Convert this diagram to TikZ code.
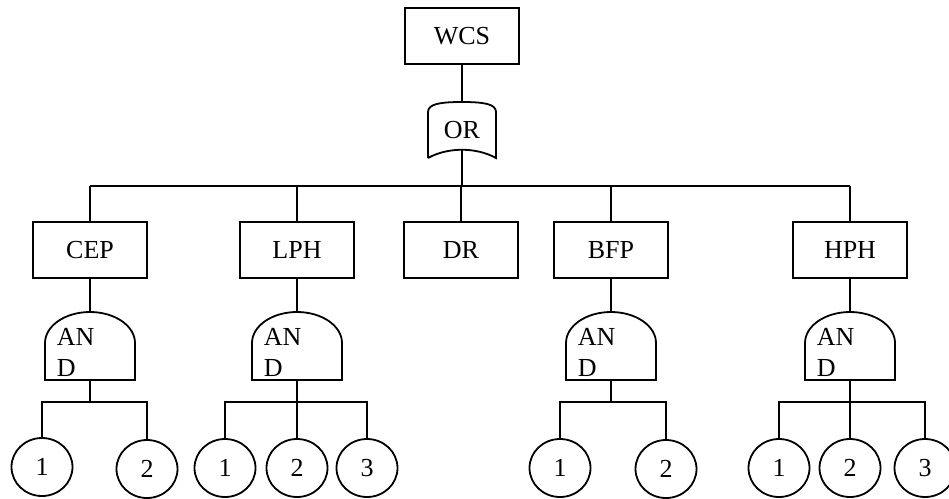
\documentclass[tikz,border=0pt]{standalone}
\usepackage{fontspec}
\setmainfont{Liberation Serif}
\usetikzlibrary{shapes.geometric}
\tikzset{
  event/.style={draw, rectangle, minimum width=114pt, minimum height=56pt, inner sep=0pt},
  basic/.style={draw, ellipse, minimum width=61pt, minimum height=58pt, inner sep=0pt},
  gatelabel/.style={align=left, inner sep=0pt, anchor=west}
}
% AND gate: name, x of its centre
\newcommand{\andgate}[2]{%
  \draw (#2-45,380) -- (#2-45,343) arc[start angle=180, end angle=0, x radius=45pt, y radius=31pt] -- (#2+45,380) -- cycle;
  \coordinate (#1-t) at (#2,312);
  \coordinate (#1-b) at (#2,380);
  \node[gatelabel] (#1-txt) at (#2-34,352) {AN\\D};
}

\begin{document}
\begin{tikzpicture}[x=1pt, y=-1pt, line width=1.8pt, font=\fontsize{26}{31}\selectfont]
    \useasboundingbox (0,0) rectangle (949,498);
    % top event and OR gate
    \node[event] (wcs) at (462,36) {WCS};
    \draw (428,158) -- (428,112) .. controls (428,104) and (440,102) .. (462,102) .. controls (484,102) and (496,104) .. (496,112) -- (496,158) .. controls (476,147) and (448,147) .. (428,158);
    \coordinate (or-t) at (462,102);
    \coordinate (or-b) at (462,150);
    \node (ortxt) at (462,130) {OR};
    \draw (wcs) -- (or-t);
    % second level
    \coordinate (bus) at (462,186);
    \node[event] (cep) at (90,250) {CEP};
    \node[event] (lph) at (297,250) {LPH};
    \node[event] (dr) at (461,250) {DR};
    \node[event] (bfp) at (611,250) {BFP};
    \node[event] (hph) at (850,250) {HPH};
    \draw (or-b) -- (bus);
    \draw (cep.north |- bus) -- (hph.north |- bus);
    \foreach \e in {cep,lph,dr,bfp,hph}
      \draw (\e) -- (\e.north |- bus);
    % AND gates
    \andgate{cepg}{90}
    \andgate{lphg}{297}
    \andgate{bfpg}{611}
    \andgate{hphg}{850}
    \draw (cep) -- (cepg-t);
    \draw (lph) -- (lphg-t);
    \draw (bfp) -- (bfpg-t);
    \draw (hph) -- (hphg-t);
    % basic events
    \node[basic] (cep1) at (42,467) {1};
    \node[basic] (cep2) at (147,469) {2};
    \node[basic] (lph1) at (225,468) {1};
    \node[basic] (lph2) at (297,468) {2};
    \node[basic] (lph3) at (367,468) {3};
    \node[basic] (bfp1) at (560,468) {1};
    \node[basic] (bfp2) at (666,469) {2};
    \node[basic] (hph1) at (779,468) {1};
    \node[basic] (hph2) at (850,468) {2};
    \node[basic] (hph3) at (925,468) {3};
    \coordinate (cepj) at (90,402);
    \coordinate (lphj) at (297,402);
    \coordinate (bfpj) at (611,402);
    \coordinate (hphj) at (850,402);
    \draw (cepg-b) -- (cepj);
    \draw (cep1) -- (cep1 |- cepj) -- (cep2 |- cepj) -- (cep2);
    \draw (lphg-b) -- (lphj);
    \draw (lph1) -- (lph1 |- lphj) -- (lph3 |- lphj) -- (lph3);
    \draw (lph2) -- (lph2 |- lphj);
    \draw (bfpg-b) -- (bfpj);
    \draw (bfp1) -- (bfp1 |- bfpj) -- (bfp2 |- bfpj) -- (bfp2);
    \draw (hphg-b) -- (hphj);
    \draw (hph1) -- (hph1 |- hphj) -- (hph3 |- hphj) -- (hph3);
    \draw (hph2) -- (hph2 |- hphj);
\end{tikzpicture}
\end{document}
